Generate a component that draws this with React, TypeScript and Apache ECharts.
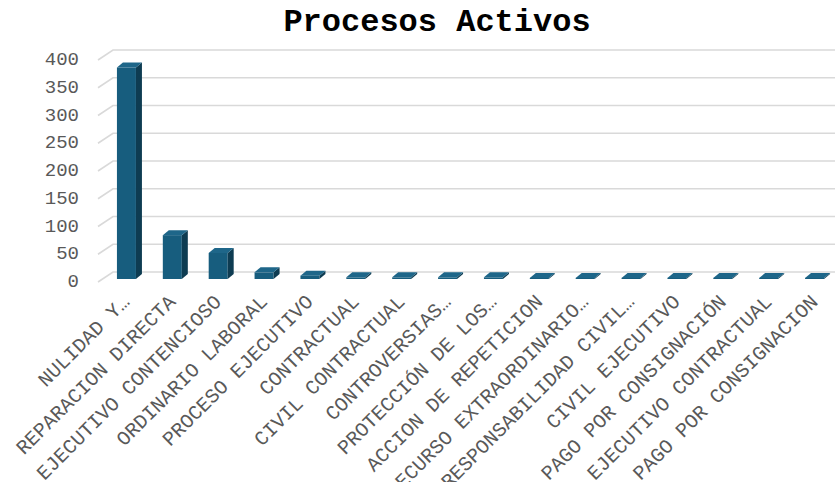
import React, { useEffect, useRef } from "react";
import * as echarts from "echarts";

const titleText = "Procesos Activos";

const categories = [
  "NULIDAD Y…",
  "REPARACION DIRECTA",
  "EJECUTIVO CONTENCIOSO",
  "ORDINARIO LABORAL",
  "PROCESO EJECUTIVO",
  "CONTRACTUAL",
  "CIVIL CONTRACTUAL",
  "CONTROVERSIAS…",
  "PROTECCIÓN DE LOS…",
  "ACCION DE REPETICION",
  "RECURSO EXTRAORDINARIO…",
  "RESPONSABILIDAD CIVIL…",
  "CIVIL EJECUTIVO",
  "PAGO POR CONSIGNACIÓN",
  "EJECUTIVO CONTRACTUAL",
  "PAGO POR CONSIGNACION",
];

const values = [381, 79, 47, 12, 6, 3, 3, 3, 3, 2, 2, 2, 2, 2, 2, 2];

const yTicks = [0, 50, 100, 150, 200, 250, 300, 350, 400];

const FONT = "'Courier New', 'Liberation Mono', monospace";

export default function App() {
  const ref = useRef<HTMLDivElement>(null);

  useEffect(() => {
    if (!ref.current) return;
    const chart = echarts.init(ref.current, null, { renderer: "svg" });

    const DX = 6;
    const DY = 5;

    const option: any = {
      animation: false,
      backgroundColor: "#ffffff",
      graphic: [
        {
          type: "text",
          x: 437,
          y: 22,
          style: {
            text: titleText,
            fontFamily: FONT,
            fontWeight: "bold",
            fontSize: 32,
            fill: "#000000",
            align: "center",
            verticalAlign: "middle",
          },
        },
      ],
      grid: [
        { left: 104, width: 734, top: 57, height: 222, containLabel: false, outerBoundsMode: "none" },
        { left: 104, width: 734, top: 60, height: 222, containLabel: false, outerBoundsMode: "none" },
      ],
      xAxis: [
        {
          type: "category",
          gridIndex: 0,
          data: categories,
          axisLine: { show: false },
          axisTick: { show: false },
          splitLine: { show: false },
          axisLabel: {
            interval: 0,
            rotate: 45,
            margin: 20,
            color: "#595959",
            fontFamily: FONT,
            fontSize: 20,
          },
        },
        {
          type: "category",
          gridIndex: 1,
          data: categories,
          show: false,
        },
      ],
      yAxis: [
        {
          type: "value",
          gridIndex: 0,
          min: 0,
          max: 400,
          interval: 50,
          show: false,
          splitLine: { show: false },
        },
        {
          type: "value",
          gridIndex: 1,
          min: 0,
          max: 400,
          interval: 50,
          axisLine: { show: false },
          axisTick: { show: false },
          splitLine: { show: false },
          axisLabel: {
            margin: 25,
            color: "#595959",
            fontFamily: FONT,
            fontSize: 19,
          },
        },
      ],
      series: [
        {
          type: "custom",
          name: "grid",
          xAxisIndex: 0,
          yAxisIndex: 0,
          z: 1,
          silent: true,
          clip: false,
          data: yTicks.map((v) => [0, v]),
          encode: { x: 0, y: 1 },
          renderItem: (params: any, api: any) => {
            const y = api.coord([0, api.value(1)])[1];
            const cs = params.coordSys;
            const x0 = cs.x;
            return {
              type: "polyline",
              shape: {
                points: [
                  [x0 - 6, y + 3],
                  [x0 + 9, y - 7],
                  [cs.x + cs.width, y - 7],
                ],
              },
              style: { stroke: "#d9d9d9", lineWidth: 1.6, fill: "none" },
            };
          },
        },
        {
          type: "custom",
          name: "Procesos",
          xAxisIndex: 0,
          yAxisIndex: 0,
          z: 5,
          clip: false,
          data: values.map((v, i) => [i, v]),
          encode: { x: 0, y: 1 },
          renderItem: (params: any, api: any) => {
            const idx = api.value(0);
            const v = api.value(1);
            const top = api.coord([idx, v]);
            const bot = api.coord([idx, 0]);
            const cx = top[0];
            const x0 = cx - 10;
            const x1 = cx + 9;
            const yt = top[1];
            const yb = bot[1];
            return {
              type: "group",
              children: [
                {
                  type: "rect",
                  shape: { x: x0, y: yt, width: x1 - x0, height: yb - yt },
                  style: { fill: "#175d7e" },
                },
                {
                  type: "polygon",
                  shape: {
                    points: [
                      [x1, yt],
                      [x1 + DX, yt - DY],
                      [x1 + DX, yb - DY],
                      [x1, yb],
                    ],
                  },
                  style: { fill: "#0e3c52" },
                },
                {
                  type: "polygon",
                  shape: {
                    points: [
                      [x0, yt],
                      [x0 + DX, yt - DY],
                      [x1 + DX, yt - DY],
                      [x1, yt],
                    ],
                  },
                  style: { fill: "#1e6689" },
                },
              ],
            };
          },
        },
      ],
    };

    chart.setOption(option);
    return () => chart.dispose();
  }, []);

  return (
    <div
      ref={ref}
      style={{ position: "absolute", left: 0, top: 0, width: 835, height: 482 }}
    />
  );
}
